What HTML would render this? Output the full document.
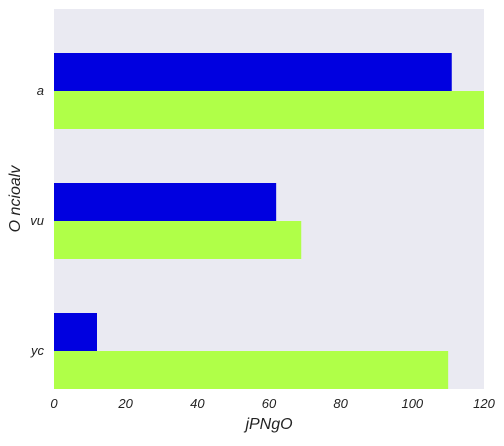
<!DOCTYPE html>
<html><head><meta charset="utf-8"><style>
body{margin:0;background:#fff;}
svg text{font-family:"Liberation Sans",sans-serif;font-style:italic;fill:#222;}
</style></head><body>
<svg id="chart" width="504" height="441">
<rect x="54" y="9" width="430" height="380" fill="#eaeaf2"></rect>
<g id="bars"></g><g id="ticks"></g>
<text x="269" y="429" font-size="16" text-anchor="middle">jPNgO</text>
<text x="0" y="0" font-size="16" text-anchor="middle" transform="translate(20,199) rotate(-90)">O ncioalv</text>
</svg>
<script>
const categories = ["a","vu","yc"];
const seriesBlue = [111, 62, 12];
const seriesGreen = [120, 69, 110];
const xTicks = [0,20,40,60,80,100,120];
const NS="http://www.w3.org/2000/svg";
const x0=54,x1=484,xMax=120;
function xs(v){return x0+(x1-x0)*v/xMax;}
function yc(i){return 91+130*i;}
const barH=38;
const gb=document.getElementById('bars'),gt=document.getElementById('ticks');
categories.forEach((c,i)=>{
  const b=document.createElementNS(NS,'rect');
  b.setAttribute('x',x0);b.setAttribute('y',yc(i)-barH);
  b.setAttribute('width',xs(seriesBlue[i])-x0);b.setAttribute('height',barH);
  b.setAttribute('fill','#0000e0');
  
  
  gb.appendChild(b);
  const g=document.createElementNS(NS,'rect');
  g.setAttribute('x',x0);g.setAttribute('y',yc(i));
  g.setAttribute('width',xs(seriesGreen[i])-x0);g.setAttribute('height',barH);
  g.setAttribute('fill','#b0ff48');
  
  
  gb.appendChild(g);
  const t=document.createElementNS(NS,'text');
  t.setAttribute('x',44);t.setAttribute('y',yc(i)+4);
  t.setAttribute('text-anchor','end');t.setAttribute('font-size','13');
  t.textContent=c;
  
  
  gt.appendChild(t);
});
xTicks.forEach(v=>{
  const t=document.createElementNS(NS,'text');
  t.setAttribute('x',xs(v));t.setAttribute('y',408);
  t.setAttribute('text-anchor','middle');t.setAttribute('font-size','13');
  t.textContent=v;
  
  
  gt.appendChild(t);
});
</script>
</body></html>
